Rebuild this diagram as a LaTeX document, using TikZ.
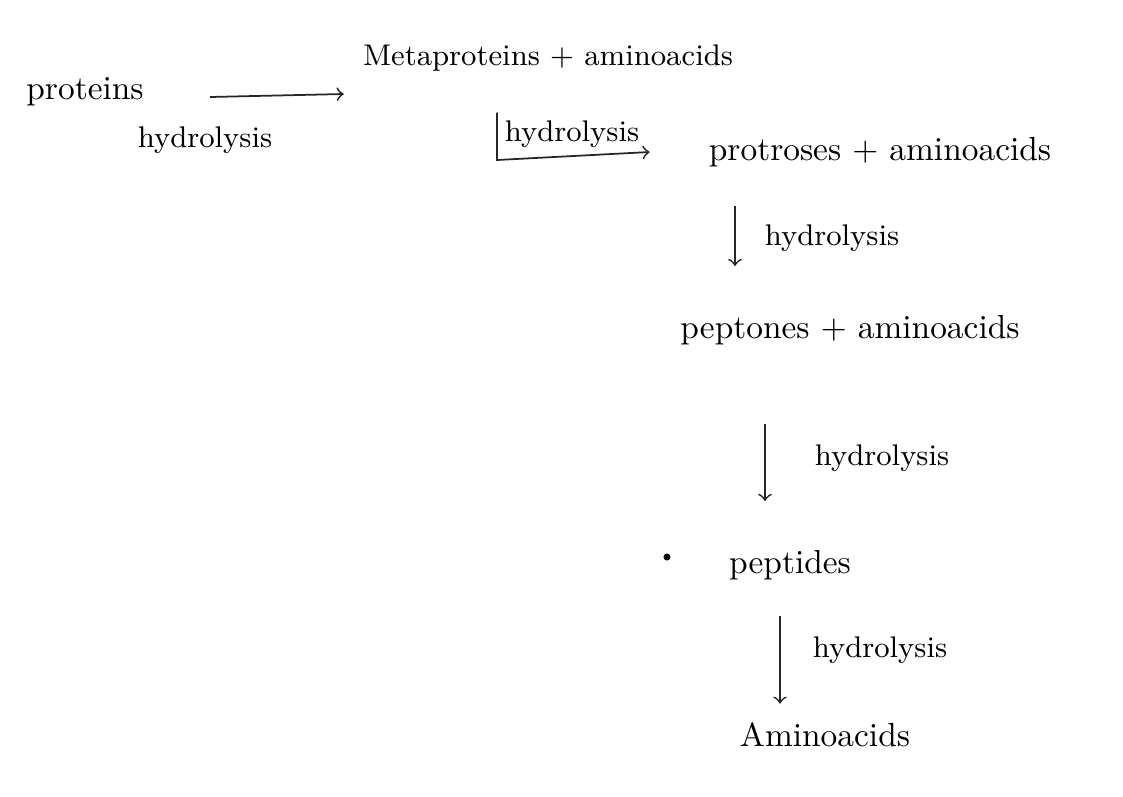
\documentclass[tikz,border=0pt]{standalone}
\usepackage{amsmath}
\usetikzlibrary{calc}
\tikzset{step name/.style={inner sep=1pt, font=\fontsize{9.5}{11}\selectfont},
hyd/.style={inner sep=1pt, font=\fontsize{8.5}{10}\selectfont},
conv/.style={draw=black!85, line width=0.5pt, ->, >=to}}

\begin{document}
\begin{tikzpicture}[x=0.01cm, y=-0.01cm]

\useasboundingbox (0,0) rectangle (1123,796);

\node[step name] (prot)  at (85, 92)  {proteins};
\node[step name, font=\fontsize{8.5}{10}\selectfont] (meta) at (548, 58) {Metaproteins + aminoacids};
\node[step name] (pros)  at (880, 152) {protroses + aminoacids};
\node[step name] (pept)  at (850, 330) {peptones + aminoacids};
\node[step name] (ptid)  at (790, 565) {peptides};
\node[step name] (amino) at (825, 735) {Aminoacids};

\coordinate (corner) at (497, 160);

\draw[conv] ($(prot.east)+(62,5)$) -- ($(meta.west)+(-15,36)$);
\draw[conv] ($(meta.south)+(-51,37)$) -- (corner) -- ($(pros.west)+(-55,0)$);
\draw[conv] ($(pros.south)+(-145,35)$) -- ($(pept.north)+(-115,-45)$);
\draw[conv] ($(pept.south)+(-85,75)$) -- ($(ptid.north)+(-25,-45)$);
\draw[conv] ($(ptid.south)+(-10,32)$) -- ($(amino.north)+(-45,-15)$);

\node[hyd] (h1) at (205, 140) {hydrolysis};
\node[hyd] (h2) at (572, 134) {hydrolysis};
\node[hyd] (h3) at (832, 238) {hydrolysis};
\node[hyd] (h4) at (882, 458) {hydrolysis};
\node[hyd] (h5) at (880, 650) {hydrolysis};

\fill (667, 557) circle (1pt);

\end{tikzpicture}
\end{document}
